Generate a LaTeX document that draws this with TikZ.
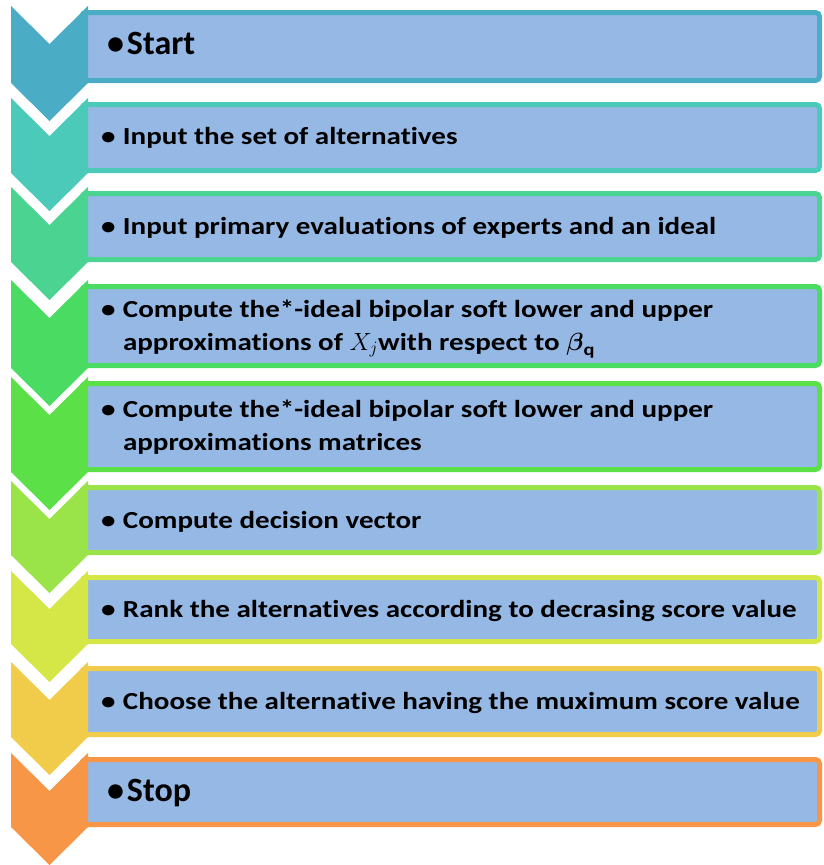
\documentclass[tikz,border=0pt]{standalone}
\usepackage{fontspec}
\setmainfont{Carlito}[Ligatures=NoCommon]
\newfontfamily\widefont{Carlito}[FakeStretch=1.185, Ligatures=NoCommon]
\usepackage{amsmath}
\definecolor{cA}{HTML}{4BACC6}
\definecolor{cB}{HTML}{4BCAB9}
\definecolor{cC}{HTML}{4BD391}
\definecolor{cD}{HTML}{4ADB63}
\definecolor{cE}{HTML}{5CE048}
\definecolor{cF}{HTML}{9AE44A}
\definecolor{cG}{HTML}{D5E746}
\definecolor{cH}{HTML}{F1CC4A}
\definecolor{cI}{HTML}{F79646}
\definecolor{panel}{HTML}{95B8E5}
\begin{document}
\begin{tikzpicture}[x=1pt,y=-1pt,
  stepbox/.style={rectangle, fill=panel, line width=5pt, rounded corners=4pt,
    outer sep=0pt, inner sep=0pt, anchor=north west},
  lbl/.style={font=\widefont\fontsize{24.5}{33}\selectfont\bfseries, inner sep=0pt,
    outer sep=0pt, anchor=base west, align=left, text=black},
  big/.style={font=\fontsize{34}{40}\selectfont\bfseries, inner sep=0pt,
    outer sep=0pt, anchor=base west, text=black}]
\useasboundingbox (0,0) rectangle (824,865);
\newcommand{\bul}{\makebox[22pt][l]{•}}
% panels: name/top/bottom/colour
\foreach \n/\t/\b/\c in {1/10/83/cA,2/102/173/cB,3/191/262/cC,4/284/368/cD,
  5/381/472/cE,6/485/555/cF,7/575/644/cG,8/666/737/cH,9/757/827/cI}{
  \pgfmathsetmacro{\h}{\b-\t-5}
  \node[stepbox, draw=\c, minimum width=737.5pt, minimum height=\h pt]
    (b\n) at (82,\t+2.5) {};
  % chevron on the left
  \fill[\c] (11,\t-4) -- (49.5,\t+34) -- (88,\t-4) -- (88,\b)
    -- (49.5,\b+38) -- (11,\b) -- cycle;
}
% step texts (multi-line nodes sit on the baseline of their last line)
\node[big] (t1) at (107,54) {\makebox[20pt][l]{•}Start};
\node[lbl] (t2) at (101,144) {\bul Input the set of alternatives};
\node[lbl] (t3) at (101,234) {\bul Input primary evaluations of experts and an ideal};
\node[lbl] (t4) at (101,350) {\bul Compute the*-ideal bipolar soft lower and upper\\
  \hspace*{22pt}approximations of $X_j$with respect to $\boldsymbol{\beta}_{\textbf{q}}$};
\node[lbl] (t5) at (101,450) {\bul Compute the*-ideal bipolar soft lower and upper\\
  \hspace*{22pt}approximations matrices};
\node[lbl] (t6) at (101,528) {\bul Compute decision vector};
\node[lbl] (t7) at (101,617) {\bul Rank the alternatives according to decrasing score value};
\node[lbl] (t8) at (101,709) {\bul Choose the alternative having the muximum score value};
\node[big] (t9) at (107,801) {\makebox[20pt][l]{•}Stop};
\end{tikzpicture}
\end{document}
